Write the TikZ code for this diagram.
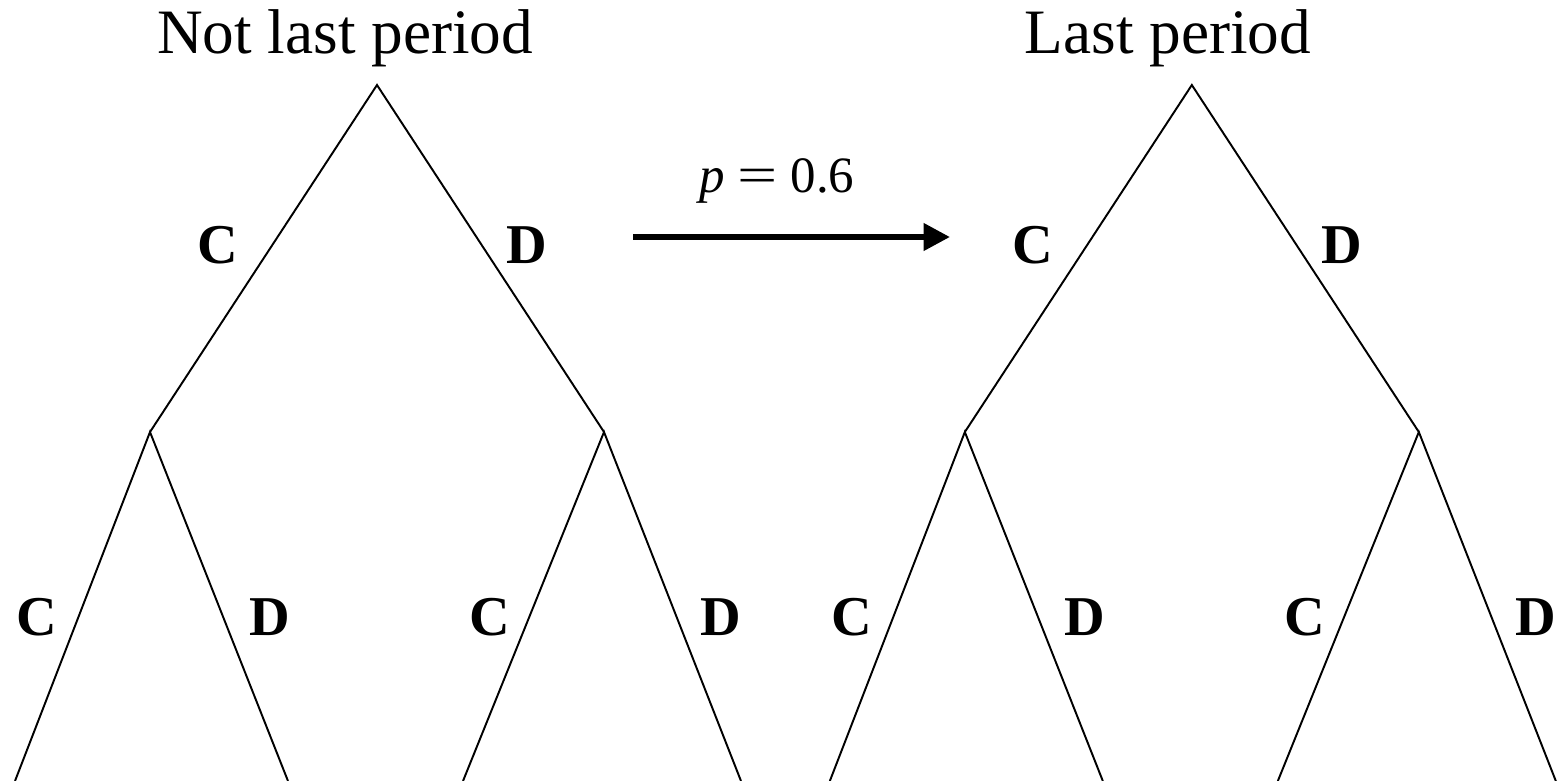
\documentclass[tikz,border=0pt]{standalone}
\usepackage{fontspec}
\setmainfont{Liberation Serif}
\usetikzlibrary{arrows.meta}

\tikzset{
  branch/.style={line width=1.1pt},
  move/.style={font=\fontsize{32}{38}\selectfont\bfseries},
  title/.style={font=\fontsize{36}{43}\selectfont, anchor=base},
}

\begin{document}
\begin{tikzpicture}[x=0.02cm, y=-0.02cm, >={Triangle[length=15pt,width=15pt]}]
	\useasboundingbox (0,0) rectangle (1566,781);
	
	% --- titles ---
	\node[title] (tL) at (345,53) {Not last period};
	\node[title] (tR) at (1168,53) {Last period};
	
	% --- the two trees, same shape ---
	\foreach \t/\dx in {L/0cm, R/16.3cm}{
		\begin{scope}[xshift=\dx]
			% vertices
			\coordinate (\t-r) at (377,85);
			\coordinate (\t-c) at (150,432);
			\coordinate (\t-d) at (604,432);
			\coordinate (\t-cc) at (15,781);
			\coordinate (\t-cd) at (288,781);
			\coordinate (\t-dc) at (463,781);
			\coordinate (\t-dd) at (741,781);
			
			% branches
			\draw[branch] (\t-c) -- (\t-r) -- (\t-d);
			\draw[branch] (\t-cc) -- (\t-c) -- (\t-cd);
			\draw[branch] (\t-dc) -- (\t-d) -- (\t-dd);
			
			% moves
			\node[move] (\t-mc) at (218,245) {C};
			\node[move] (\t-md) at (527,245) {D};
			\node[move] (\t-mcc) at (37,617) {C};
			\node[move] (\t-mcd) at (270,617) {D};
			\node[move] (\t-mdc) at (490,617) {C};
			\node[move] (\t-mdd) at (721,617) {D};
		\end{scope}
	}
	
	% --- continuation arrow ---
	\coordinate (a0) at (633,237);
	\coordinate (a1) at (950,237);
	\draw[->, line width=3.4pt] (a0) -- (a1);
	\node[anchor=base, font=\fontsize{29}{34}\selectfont] (prob) at (777,192) {\textit{p}\hspace{0.25em}\scalebox{1.4}[1]{=}\hspace{0.25em}0.6};
\end{tikzpicture}
\end{document}
